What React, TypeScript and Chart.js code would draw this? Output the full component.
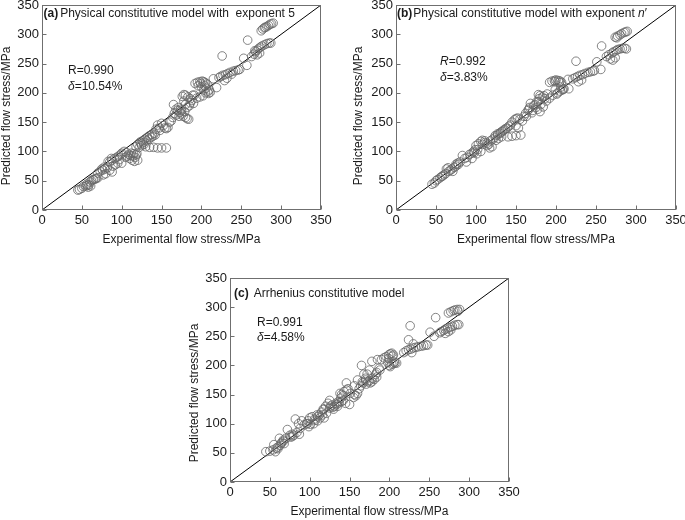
import React, { useEffect, useRef } from "react";
import { Chart, registerables } from "chart.js";

Chart.register(...registerables);

const FONT = '"Liberation Sans", Arial, Helvetica, sans-serif';
const AXIS_MIN = 0;
const AXIS_MAX = 350;
const AXIS_STEP = 50;
const X_TITLE = "Experimental flow stress/MPa";
const Y_TITLE = "Predicted flow stress/MPa";
const DIAGONAL: [number, number][] = [[0, 0], [350, 350]];

// (a) Physical constitutive model with exponent 5  — [experimental, predicted]
const pointsA: [number, number][] = [
  [275, 306], [277, 309], [279, 311], [282, 313], [284, 315], [286, 317], [288, 318], [290, 319], [280, 312],
  [263, 262], [266, 266], [268, 270], [270, 273], [272, 276], [274, 278], [276, 280], [279, 282], [282, 284], [285, 285], [287, 285], [270, 265], [273, 268], [267, 272],
  [258, 290], [257, 247], [253, 259], [226, 263], [219, 209], [215, 224], [222, 226],
  [224, 228], [227, 230], [230, 231], [233, 233], [236, 235], [240, 237], [243, 238], [246, 239], [248, 240], [229, 221], [232, 225], [238, 232],
  [192, 216], [195, 218], [198, 219], [201, 220], [203, 219], [205, 217], [207, 215], [196, 212], [200, 210], [203, 205], [205, 200], [208, 202], [210, 205], [202, 195], [198, 193], [194, 191], [191, 196],
  [199, 216], [204, 212], [206, 208], [209, 199], [211, 201],
  [176, 194], [178, 197], [180, 196], [183, 193], [186, 190], [188, 187], [185, 178], [182, 175], [180, 180], [178, 186], [190, 182], [186, 183], [189, 196],
  [165, 180], [168, 172], [170, 170], [173, 167], [175, 164], [177, 160], [180, 158], [182, 156], [184, 155], [172, 160], [168, 162], [175, 170],
  [162, 152], [164, 158], [166, 165], [171, 175], [174, 172], [179, 168],
  [145, 145], [147, 140], [150, 148], [152, 144], [154, 140], [156, 139], [158, 141], [160, 150], [148, 136], [143, 138],
  [130, 108], [135, 107], [140, 107], [145, 106], [150, 106], [156, 106],
  [118, 108], [120, 112], [123, 116], [126, 118], [129, 121], [132, 124], [135, 127], [138, 129], [141, 131], [128, 112], [125, 110], [122, 107],
  [124, 113], [127, 115], [131, 118], [134, 121], [137, 124], [139, 126], [142, 128],
  [100, 97], [103, 100], [106, 98], [109, 95], [112, 97], [115, 96], [118, 94], [110, 88], [113, 85], [116, 83], [120, 85], [105, 90],
  [107, 92], [111, 93], [114, 92], [117, 90], [119, 96],
  [85, 82], [88, 85], [91, 88], [94, 90], [97, 86], [100, 80], [92, 77], [89, 75], [95, 80], [83, 83], [87, 88], [96, 92], [99, 95],
  [70, 63], [73, 66], [76, 68], [79, 70], [82, 72], [85, 68], [88, 65], [80, 62], [77, 60], [75, 70], [78, 73],
  [62, 50], [65, 52], [67, 53], [70, 55], [60, 48], [64, 52], [68, 54],
  [52, 40], [55, 41], [57, 42], [59, 43], [61, 41], [47, 35], [50, 37], [45, 34], [56, 44], [58, 39],
];

// (b) Physical constitutive model with exponent n'
const pointsB: [number, number][] = [
  [274, 295], [277, 297], [280, 299], [282, 301], [285, 303], [287, 304], [289, 305], [276, 294],
  [263, 262], [266, 265], [268, 258], [270, 268], [272, 270], [275, 272], [277, 274], [280, 275], [283, 276], [286, 276], [288, 275], [271, 256], [274, 260],
  [257, 280], [256, 240], [251, 253], [225, 254], [216, 207], [215, 223],
  [221, 224], [224, 226], [227, 228], [230, 230], [233, 231], [236, 233], [240, 235], [243, 236], [246, 237], [248, 238], [228, 219], [232, 222],
  [192, 218], [195, 220], [198, 221], [200, 222], [203, 221], [205, 220], [207, 218], [199, 205], [202, 200], [205, 203], [208, 205], [196, 196], [192, 191], [210, 207], [201, 198],
  [199, 219], [204, 218], [206, 210], [209, 206],
  [176, 185], [178, 197], [180, 195], [183, 193], [186, 190], [188, 186], [181, 180], [184, 176], [179, 190], [185, 195], [189, 198],
  [163, 160], [165, 170], [168, 182], [170, 166], [172, 178], [175, 175], [177, 172], [180, 168], [167, 175],
  [162, 165], [166, 172], [171, 170], [174, 180], [178, 185],
  [143, 145], [145, 150], [148, 154], [150, 156], [152, 157], [155, 155], [158, 152], [150, 144], [153, 140], [160, 160],
  [140, 125], [145, 126], [150, 127], [156, 128],
  [118, 118], [121, 121], [124, 124], [127, 128], [130, 131], [133, 134], [136, 137], [139, 140], [128, 122], [132, 125], [125, 119],
  [124, 127], [127, 130], [131, 133], [134, 136], [137, 139], [141, 143],
  [100, 110], [103, 113], [106, 117], [108, 119], [111, 115], [114, 110], [117, 106], [120, 108], [102, 103], [106, 100],
  [108, 112], [111, 118], [114, 114], [116, 112],
  [80, 82], [83, 93], [86, 88], [89, 90], [92, 95], [95, 97], [98, 98], [101, 96], [88, 82], [95, 88], [97, 100], [99, 103],
  [63, 70], [65, 72], [68, 68], [70, 70], [73, 73], [75, 75], [78, 78], [71, 66], [75, 78], [77, 80],
  [45, 44], [48, 46], [50, 50], [52, 52], [55, 55], [57, 57], [60, 60], [58, 58], [62, 62], [66, 66],
];

// (c) Arrhenius constitutive model
const pointsC: [number, number][] = [
  [274, 290], [277, 292], [280, 294], [282, 295], [285, 296], [288, 296], [286, 293],
  [263, 256], [265, 258], [268, 260], [270, 262], [273, 264], [276, 265], [279, 267], [282, 269], [285, 270], [287, 270], [270, 255], [274, 258], [277, 261],
  [258, 282], [256, 250], [251, 257], [226, 268], [224, 244], [230, 237],
  [218, 222], [221, 225], [224, 227], [227, 228], [230, 230], [233, 231], [236, 232], [240, 233], [243, 234], [246, 235], [248, 235], [228, 222],
  [190, 210], [193, 213], [196, 215], [199, 218], [201, 220], [203, 221], [205, 218], [198, 205], [200, 200], [203, 202], [205, 203], [207, 204], [185, 210], [201, 198],
  [199, 212], [204, 216], [206, 206], [209, 204],
  [165, 200], [178, 207], [175, 192], [184, 188], [188, 192],
  [164, 165], [167, 170], [170, 175], [173, 172], [176, 170], [178, 172], [181, 176], [184, 180], [168, 185], [172, 185], [170, 178],
  [162, 160], [166, 172], [171, 168], [175, 174], [179, 178], [183, 185], [187, 195],
  [146, 170], [156, 165], [160, 175],
  [138, 152], [140, 150], [143, 155], [146, 158], [148, 160], [151, 152], [155, 145], [158, 148], [160, 152], [145, 135], [150, 133], [156, 150], [142, 140],
  [117, 125], [120, 130], [123, 135], [125, 140], [128, 132], [131, 130], [134, 133], [137, 136], [140, 138], [125, 127], [130, 125], [135, 130],
  [126, 130], [129, 128], [133, 135], [136, 138], [139, 144], [142, 148],
  [97, 100], [100, 110], [103, 112], [106, 108], [109, 115], [112, 115], [115, 120], [118, 125], [110, 105], [105, 100], [118, 110], [121, 118],
  [107, 106], [110, 112], [113, 110], [116, 115],
  [80, 80], [82, 108], [84, 85], [86, 100], [88, 92], [90, 105], [93, 98], [96, 100], [99, 95], [87, 82], [98, 105], [101, 99],
  [65, 68], [67, 70], [70, 75], [72, 90], [75, 80], [78, 78], [68, 66], [62, 75], [76, 77], [78, 82],
  [45, 52], [50, 53], [54, 55], [57, 52], [58, 58], [60, 60], [63, 63], [55, 64], [60, 57], [64, 66], [67, 72],
];

type Seg = { text: string; bold?: boolean; italic?: boolean; gap?: number };

const titleA: Seg[] = [{ text: "(a)", bold: true, gap: 2 }, { text: "Physical constitutive model with  exponent 5" }];
const titleB: Seg[] = [{ text: "(b)", bold: true, gap: 1 }, { text: "Physical constitutive model with exponent " }, { text: "n", italic: true }, { text: "′" }];
const titleC: Seg[] = [{ text: "(c)", bold: true, gap: 5 }, { text: "Arrhenius constitutive model" }];

const statsA: Seg[][] = [[{ text: "R=0.990" }], [{ text: "δ", italic: true }, { text: "=10.54%" }]];
const statsB: Seg[][] = [[{ text: "R", italic: true }, { text: "=0.992" }], [{ text: "δ", italic: true }, { text: "=3.83%" }]];
const statsC: Seg[][] = [[{ text: "R=0.991" }], [{ text: "δ", italic: true }, { text: "=4.58%" }]];

type PanelSpec = {
  canvas: { left: number; top: number; width: number; height: number };
  area: { l: number; t: number; r: number; b: number };
  yWidth: number;
  yTitleDx: number;
  yTitleDy: number;
  titlePos: [number, number];
  statPos: [number, number, number];
  points: [number, number][];
  title: Seg[];
  stats: Seg[][];
};

const X_AXIS_H = 40;

const panels: PanelSpec[] = [
  {
    canvas: { left: 0, top: -20, width: 345, height: 270 },
    area: { l: 42, t: 5, r: 321, b: 210 },
    yWidth: 40, yTitleDx: 35, yTitleDy: 111,
    titlePos: [1.5, 9], statPos: [26, 66, 82],
    points: pointsA, title: titleA, stats: statsA,
  },
  {
    canvas: { left: 345, top: -20, width: 360, height: 270 },
    area: { l: 396, t: 5, r: 676, b: 210 },
    yWidth: 44, yTitleDx: 37, yTitleDy: 111,
    titlePos: [1, 9], statPos: [44, 57, 73],
    points: pointsB, title: titleB, stats: statsB,
  },
  {
    canvas: { left: 180, top: 248, width: 360, height: 280 },
    area: { l: 230, t: 278, r: 509, b: 482 },
    yWidth: 42, yTitleDx: 35, yTitleDy: 115,
    titlePos: [4, 16], statPos: [27, 45, 60],
    points: pointsC, title: titleC, stats: statsC,
  },
];

function fontStr(seg: Seg, size: number) {
  return `${seg.italic ? "italic " : ""}${seg.bold ? "bold " : ""}${size}px ${FONT}`;
}

function drawSegs(ctx: CanvasRenderingContext2D, segs: Seg[], x: number, y: number) {
  let cx = x;
  for (const s of segs) {
    ctx.font = fontStr(s, 12);
    ctx.fillText(s.text, cx, y);
    cx += ctx.measureText(s.text).width + (s.gap || 0);
  }
}

function makeDecor(spec: PanelSpec) {
  return {
    id: "panelDecor",
    afterDraw(chart: any) {
      const { ctx, chartArea: a, scales } = chart;
      ctx.save();
      ctx.strokeStyle = "#6f6f6f";
      ctx.lineWidth = 1;
      const L = Math.round(a.left) + 0.5;
      const T = Math.round(a.top) + 0.5;
      const R = Math.round(a.right) - 0.5;
      const B = Math.round(a.bottom) - 0.5;
      ctx.strokeRect(L, T, R - L, B - T);
      ctx.beginPath();
      for (const t of scales.x.ticks) {
        const px = Math.round(scales.x.getPixelForValue(t.value)) + 0.5;
        ctx.moveTo(px, B);
        ctx.lineTo(px, B - 4);
      }
      for (const t of scales.y.ticks) {
        const py = Math.round(scales.y.getPixelForValue(t.value)) + 0.5;
        ctx.moveTo(L, py);
        ctx.lineTo(L + 4, py);
      }
      ctx.stroke();
      ctx.fillStyle = "#1a1a1a";
      ctx.textBaseline = "middle";
      ctx.textAlign = "center";
      ctx.save();
      ctx.translate(a.left - spec.yTitleDx, a.top + spec.yTitleDy);
      ctx.rotate(-Math.PI / 2);
      ctx.font = `12px ${FONT}`;
      ctx.fillText(Y_TITLE, 0, 0);
      ctx.restore();
      ctx.textAlign = "left";
      drawSegs(ctx, spec.title, a.left + spec.titlePos[0], a.top + spec.titlePos[1]);
      drawSegs(ctx, spec.stats[0], a.left + spec.statPos[0], a.top + spec.statPos[1]);
      drawSegs(ctx, spec.stats[1], a.left + spec.statPos[0], a.top + spec.statPos[2]);
      ctx.restore();
    },
  };
}

function Panel({ spec }: { spec: PanelSpec }) {
  const ref = useRef<HTMLCanvasElement | null>(null);
  useEffect(() => {
    if (!ref.current) return;
    const c = spec.canvas;
    const a = spec.area;
    const padding = {
      left: a.l - c.left - spec.yWidth,
      top: a.t - c.top,
      right: c.left + c.width - a.r,
      bottom: c.top + c.height - a.b - X_AXIS_H,
    };
    const tickFont = { family: FONT, size: 13 };
    const chart = new Chart(ref.current, {
      type: "scatter",
      data: {
        datasets: [
          {
            data: spec.points.map(([x, y]) => ({ x, y })),
            pointRadius: 4.3,
            pointBackgroundColor: "rgba(255,255,255,0)",
            pointBorderColor: "#666666",
            pointBorderWidth: 0.8,
            showLine: false,
          },
          {
            data: DIAGONAL.map(([x, y]) => ({ x, y })),
            showLine: true,
            borderColor: "#000000",
            borderWidth: 1,
            pointRadius: 0,
          },
        ],
      },
      options: {
        animation: false,
        responsive: false,
        devicePixelRatio: 1,
        layout: { autoPadding: false, padding },
        plugins: { legend: { display: false }, tooltip: { enabled: false } },
        scales: {
          x: {
            type: "linear",
            position: "bottom",
            min: AXIS_MIN,
            max: AXIS_MAX,
            ticks: { stepSize: AXIS_STEP, font: tickFont, color: "#1a1a1a", padding: 3, maxRotation: 0, autoSkip: false },
            grid: { display: false, drawTicks: false },
            border: { display: false },
            title: { display: true, text: X_TITLE, font: { family: FONT, size: 12 }, color: "#1a1a1a", padding: { top: 0, bottom: 3 } },
            afterFit: (s: any) => { s.height = X_AXIS_H; },
          },
          y: {
            type: "linear",
            position: "left",
            min: AXIS_MIN,
            max: AXIS_MAX,
            ticks: { stepSize: AXIS_STEP, font: tickFont, color: "#1a1a1a", padding: 3, autoSkip: false },
            grid: { display: false, drawTicks: false },
            border: { display: false },
            title: { display: false },
            afterFit: (s: any) => { s.width = spec.yWidth; },
          },
        },
      } as any,
      plugins: [makeDecor(spec)],
    });
    return () => chart.destroy();
  }, [spec]);
  const c = spec.canvas;
  return (
    <canvas
      ref={ref}
      width={c.width}
      height={c.height}
      style={{ position: "absolute", left: c.left, top: c.top, width: c.width, height: c.height }}
    />
  );
}

export default function App() {
  return (
    <div style={{ position: "absolute", left: 0, top: 0, width: 685, height: 520, overflow: "hidden", background: "#ffffff" }}>
      {panels.map((p, i) => (
        <Panel key={i} spec={p} />
      ))}
    </div>
  );
}
